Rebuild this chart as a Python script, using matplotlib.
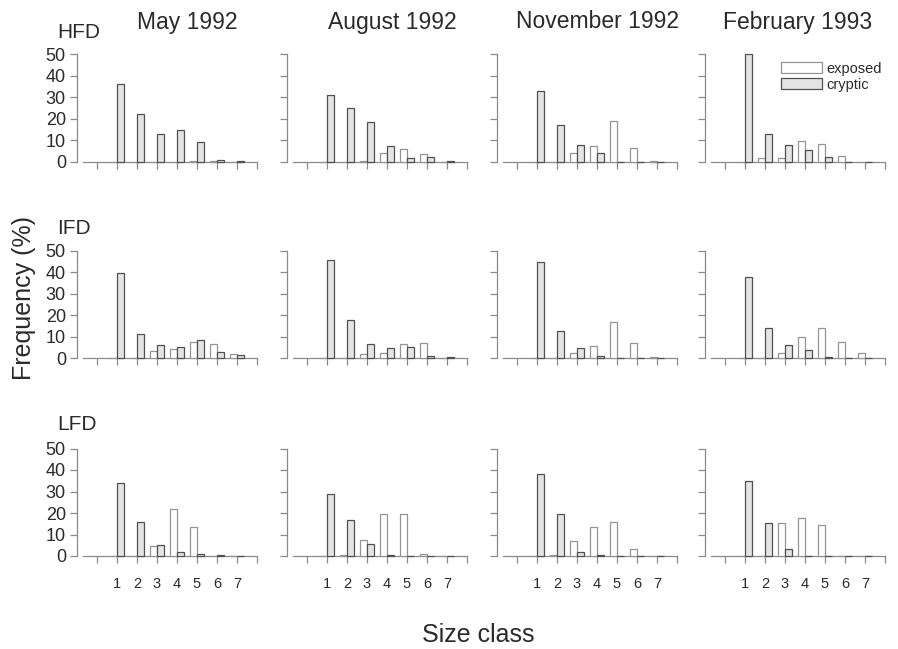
import numpy as np
import matplotlib
matplotlib.use("Agg")
import matplotlib.pyplot as plt

plt.rcParams['font.family'] = ['Liberation Sans', 'DejaVu Sans']

# size classes and panels
size_class = [1, 2, 3, 4, 5, 6, 7]
months = ["May 1992", "August 1992", "November 1992", "February 1993"]
sites = ["HFD", "IFD", "LFD"]

# exposed / cryptic frequency (%) per site, one list per month
hfd_exposed = [[0, 0, 0, 0, 0.5, 0.3, 0],
               [0, 0, 0.5, 4.2, 5.8, 3.6, 0],
               [0, 0, 4, 7.5, 19, 6.3, 0.5],
               [0, 1.7, 1.7, 9.4, 8.3, 2.6, 0]]
hfd_cryptic = [[36, 22, 13, 14.8, 9, 1, 0.3],
               [31, 25, 18.5, 7.5, 1.6, 2, 0.4],
               [33, 17, 8, 4, 0, 0, 0],
               [50, 13, 7.8, 5.5, 2, 0, 0]]

ifd_exposed = [[0, 0, 3.4, 4.5, 7.5, 6.7, 2],
               [0, 0, 1.9, 2.3, 6.5, 7.3, 0],
               [0, 0, 2.5, 5.7, 17, 7.3, 0.5],
               [0, 0, 2.5, 9.9, 13.9, 7.7, 2.6]]
ifd_cryptic = [[39.5, 11.2, 6.2, 5.3, 8.5, 3.1, 1.5],
               [45.5, 17.9, 6.7, 4.7, 5.4, 1, 0.5],
               [45, 12.7, 4.6, 1.1, 0, 0, 0],
               [38, 13.9, 6.2, 3.9, 0.8, 0, 0]]

lfd_exposed = [[0, 0, 4.6, 21.7, 13.4, 0, 0],
               [0, 0.5, 7.4, 19.4, 19.7, 1.1, 0],
               [0, 0.5, 7.1, 13.7, 16, 3.2, 0],
               [0, 0, 15.3, 17.9, 14.5, 0, 0]]
lfd_cryptic = [[34, 16, 5.2, 1.7, 0.8, 0.3, 0],
               [29, 16.6, 5.4, 0.5, 0, 0, 0],
               [38, 19.4, 2, 0.5, 0, 0, 0],
               [35, 15.3, 3.2, 0.2, 0, 0, 0]]

exposed = [hfd_exposed, ifd_exposed, lfd_exposed]
cryptic = [hfd_cryptic, ifd_cryptic, lfd_cryptic]

W, H = 898, 649
fig = plt.figure(figsize=(W / 100, H / 100), dpi=100)

# pixel layout of each panel (x of y-axis, y of zero line)
x0 = [97, 307, 517, 725]
y0 = [161.7, 358.3, 556]
px_x = 20.0
px_y = 2.15
xlim = (-1.0, 8.4)
ylim = (-7, 52)

line_col = "#8a8a8a"
text_col = "#2a2a2a"
bw = 0.35

for r in range(3):
    for c in range(4):
        left = (x0[c] + xlim[0] * px_x) / W
        width = (xlim[1] - xlim[0]) * px_x / W
        bottom = 1 - (y0[r] - ylim[0] * px_y) / H
        height = (ylim[1] - ylim[0]) * px_y / H
        ax = fig.add_axes([left, bottom, width, height])
        ax.set_xlim(*xlim)
        ax.set_ylim(*ylim)

        xs = np.array(size_class)
        ax.bar(xs - bw, exposed[r][c], width=bw, align='edge',
               color='white', edgecolor='#949494', linewidth=0.9,
               label='exposed', zorder=3)
        ax.bar(xs, cryptic[r][c], width=bw, align='edge',
               color='#e4e4e4', edgecolor='#505050', linewidth=0.9,
               label='cryptic', zorder=3)

        for s in ['top', 'right']:
            ax.spines[s].set_visible(False)
        ax.spines['bottom'].set_position(('data', 0))
        ax.spines['bottom'].set_bounds(-0.7, 8)
        ax.spines['left'].set_bounds(0, 50)
        for s in ['bottom', 'left']:
            ax.spines[s].set_color(line_col)
            ax.spines[s].set_linewidth(0.9)

        ax.set_xticks(range(0, 9))
        ax.set_yticks(range(0, 51, 10))
        ax.tick_params(axis='both', direction='out', length=5, width=0.9,
                       color=line_col, labelsize=13, labelcolor=text_col,
                       pad=3)
        if c == 0:
            ax.set_yticklabels([str(v) for v in range(0, 51, 10)])
        else:
            ax.set_yticklabels([])
        ax.set_xticklabels([])

        if r == 2:
            for k in size_class:
                ax.text(k, -13, str(k), ha='center', va='center',
                        fontsize=10.5, color=text_col)

        if r == 0 and c == 3:
            ax.legend(loc='upper left', bbox_to_anchor=(2.8, 46.5),
                      bbox_transform=ax.transData, frameon=False,
                      fontsize=10.5, handlelength=2.8, handleheight=0.75,
                      handletextpad=0.3, labelspacing=0.15,
                      borderpad=0, borderaxespad=0, labelcolor=text_col)

# column titles and row labels
title_x = [187, 392, 598, 798]
for c in range(4):
    fig.text(title_x[c] / W, 1 - 22 / H, months[c], ha='center',
             va='center', fontsize=16.5, color=text_col)

label_y = [32, 228, 425]
for r in range(3):
    fig.text(57 / W, 1 - label_y[r] / H, sites[r], ha='left',
             va='center', fontsize=15, color=text_col)

fig.text(24 / W, 1 - 298 / H, "Frequency (%)", rotation=90, ha='center',
         va='center', fontsize=18, color=text_col)
fig.text(478 / W, 1 - 635 / H, "Size class", ha='center', va='center',
         fontsize=18, color=text_col)

fig.savefig("out.png", dpi=100)
